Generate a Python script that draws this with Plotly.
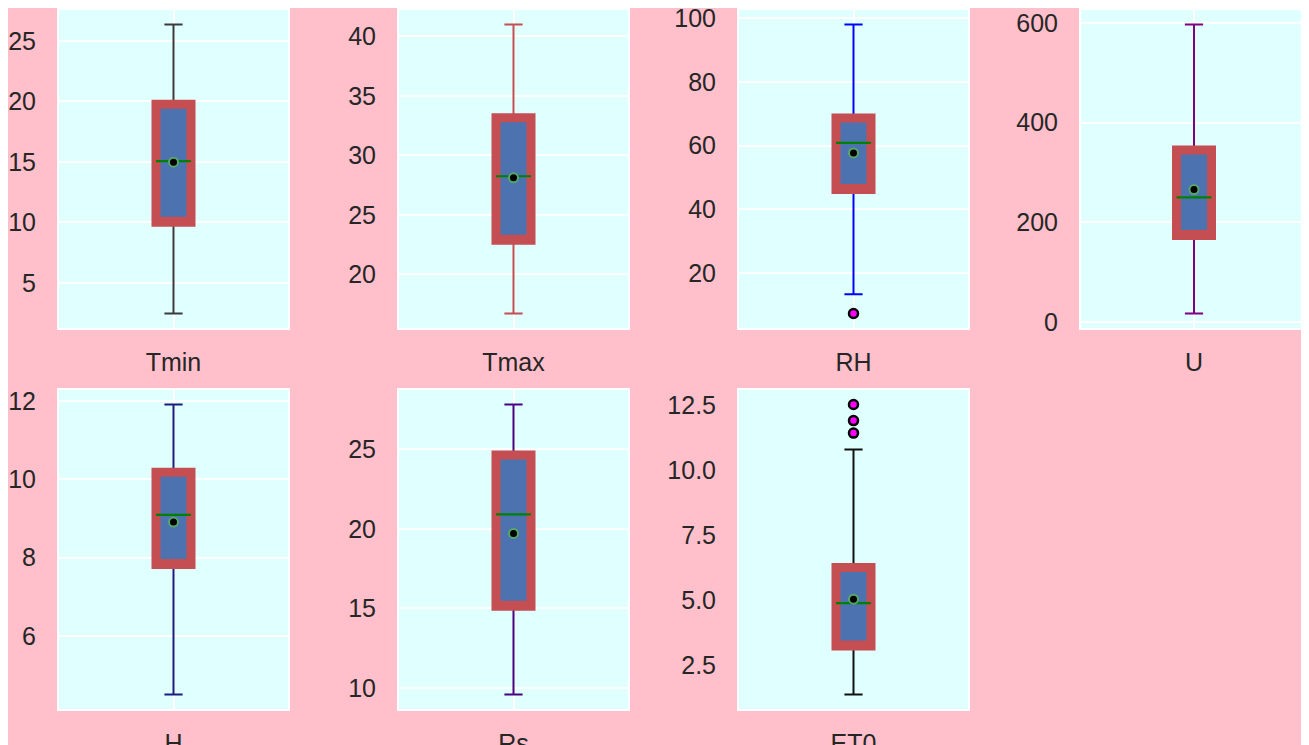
import plotly.graph_objects as go

# ---------------- data ----------------
categories = ["Tmin", "Tmax", "RH", "U", "H", "Rs", "ET0"]
lower_whisker = [2.46, 16.71, 13.3, 17.5, 4.50, 9.58, 1.38]
q1 = [10.0, 22.87, 46.2, 173.6, 7.82, 15.13, 3.25]
median = [15.06, 28.25, 60.85, 250.3, 9.09, 20.91, 4.90]
q3 = [19.77, 33.16, 68.7, 345.2, 10.18, 24.65, 6.27]
upper_whisker = [26.36, 41.01, 98.1, 596.6, 11.91, 27.82, 10.81]
mean = [14.97, 28.12, 57.7, 265.8, 8.905, 19.71, 5.05]
outliers = [[], [], [7.2], [], [], [], [11.44, 11.92, 12.54]]

# ---------------- styles ----------------
y_dtick = [5, 5, 20, 200, 2, 5, 2.5]
y_format = ["", "", "", "", "", "", ".1f"]
whisker_colors = ["#3a3a3a", "#c44e52", "#0000ff", "#800080", "#1c1c80", "#4b0082", "#111111"]
show_grid = [True, True, True, True, True, True, False]

W, H = 1309, 745
OFF = 8  # page body margin
col_left = [59, 399, 739, 1081]
col_width = [229, 229, 229, 226]
row_top = [10, 390]
row_bottom = [328, 709]

BOX_EDGE = "#c44e52"
BOX_FILL = "#4c72b0"
MEDIAN = "#008000"
MEAN_EDGE = "#55a868"
FONT = dict(family="Liberation Sans, Arial, sans-serif", size=25, color="#262626")

fig = go.Figure()
layout = {}

for i, cat in enumerate(categories):
    r, c = divmod(i, 4)
    xa = "x" if i == 0 else f"x{i+1}"
    ya = "y" if i == 0 else f"y{i+1}"
    bw = 35.0 / col_width[c]

    # whiskers (and hidden box outline) in the whisker colour
    fig.add_trace(go.Box(
        x=[cat], q1=[q1[i]], median=[median[i]], q3=[q3[i]],
        lowerfence=[lower_whisker[i]], upperfence=[upper_whisker[i]],
        line=dict(color=whisker_colors[i], width=2), fillcolor="rgba(0,0,0,0)",
        width=bw, whiskerwidth=0.52, boxpoints=False, showlegend=False,
        xaxis=xa, yaxis=ya, hoverinfo="skip"))
    # thick red box with blue fill (no whiskers)
    fig.add_trace(go.Box(
        x=[cat], q1=[q1[i]], median=[q1[i]], q3=[q3[i]],
        lowerfence=[q1[i]], upperfence=[q3[i]],
        line=dict(color=BOX_EDGE, width=9), fillcolor=BOX_FILL,
        width=bw, whiskerwidth=0, boxpoints=False, showlegend=False,
        xaxis=xa, yaxis=ya, hoverinfo="skip"))
    # green median line
    fig.add_trace(go.Box(
        x=[cat], q1=[median[i]], median=[median[i]], q3=[median[i]],
        lowerfence=[median[i]], upperfence=[median[i]],
        line=dict(color=MEDIAN, width=2.2), fillcolor="rgba(0,0,0,0)",
        width=bw, whiskerwidth=0, boxpoints=False, showlegend=False,
        xaxis=xa, yaxis=ya, hoverinfo="skip"))
    # mean marker
    fig.add_trace(go.Scatter(
        x=[cat], y=[mean[i]], mode="markers",
        marker=dict(color="black", size=9, line=dict(color=MEAN_EDGE, width=2)),
        showlegend=False, xaxis=xa, yaxis=ya, hoverinfo="skip"))
    # outliers
    if outliers[i]:
        fig.add_trace(go.Scatter(
            x=[cat] * len(outliers[i]), y=outliers[i], mode="markers",
            marker=dict(color="#ff00ff", size=9, line=dict(color="black", width=2.5)),
            showlegend=False, xaxis=xa, yaxis=ya, hoverinfo="skip"))

    vals = [lower_whisker[i], upper_whisker[i]] + outliers[i]
    lo, hi = min(vals), max(vals)
    pad = 0.05 * (hi - lo)

    xd = [(col_left[c] - OFF) / W, (col_left[c] - OFF + col_width[c]) / W]
    yd = [1 - (row_bottom[r] - OFF) / H, 1 - (row_top[r] - OFF) / H]
    layout["xaxis" if i == 0 else f"xaxis{i+1}"] = dict(
        domain=xd, anchor=ya, type="category", range=[-0.5, 0.5],
        showgrid=show_grid[i], gridcolor="white", gridwidth=1.5,
        showline=True, linecolor="white", linewidth=2, mirror=True,
        zeroline=False, ticks="", ticklabelstandoff=11,
        ticklabeloverflow="allow",
        tickfont=FONT, automargin=False, fixedrange=True)
    layout["yaxis" if i == 0 else f"yaxis{i+1}"] = dict(
        domain=yd, anchor=xa, range=[lo - pad, hi + pad],
        dtick=y_dtick[i], tick0=0, tickformat=y_format[i],
        showgrid=show_grid[i], gridcolor="white", gridwidth=1.5,
        showline=True, linecolor="white", linewidth=2, mirror=True,
        zeroline=False, ticks="", ticklabelstandoff=16,
        ticklabeloverflow="allow",
        tickfont=FONT, automargin=False, fixedrange=True)

fig.update_layout(
    width=W, height=H,
    margin=dict(l=0, r=0, t=0, b=0),
    paper_bgcolor="#ffc0cb", plot_bgcolor="#e0ffff",
    boxmode="overlay", showlegend=False,
    template="none",
    font=FONT,
    **layout,
)

fig.write_html("out.html")
